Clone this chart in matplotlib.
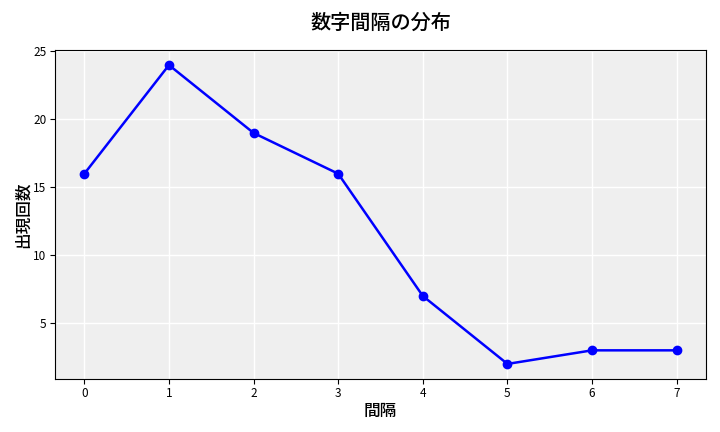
import matplotlib
matplotlib.use("Agg")
import matplotlib.pyplot as plt

plt.rcParams['font.family'] = ['Noto Sans CJK JP', 'DejaVu Sans']

gaps = [0, 1, 2, 3, 4, 5, 6, 7]
counts = [16, 24, 19, 16, 7, 2, 3, 3]

fig, ax = plt.subplots(figsize=(7.2, 4.32), dpi=100)
ax.set_facecolor('#efefef')
ax.plot(gaps, counts, color='blue', marker='o', linewidth=1.8, markersize=6)
ax.grid(True, color='white', linewidth=1)
ax.set_axisbelow(True)
ax.set_title('数字間隔の分布', fontsize=14.5, fontweight='medium', pad=15)
ax.set_xlabel('間隔', fontsize=12, fontweight='medium', labelpad=1)
ax.set_ylabel('出現回数', fontsize=12, fontweight='medium', labelpad=1)
ax.tick_params(labelsize=8.5, pad=2.5)
fig.subplots_adjust(left=0.076, right=0.981, top=0.884, bottom=0.123)
fig.savefig('out.png')
